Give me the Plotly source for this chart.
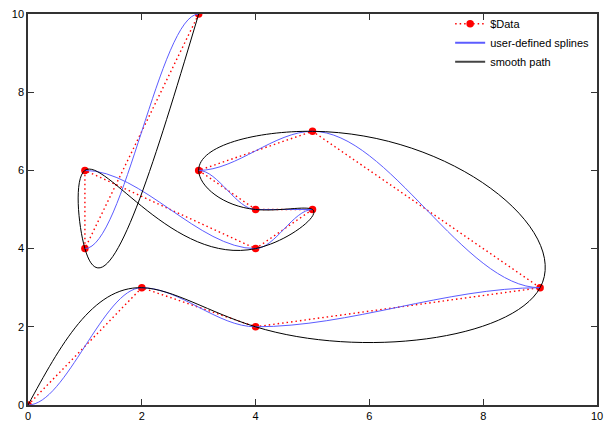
import numpy as np
import plotly.graph_objects as go

# Path data (in drawing order)
xs = [0, 2, 4, 9, 5, 3, 4, 5, 4, 1, 1, 3]
ys = [0, 3, 2, 3, 7, 6, 5, 5, 4, 6, 4, 10]

x_ticks = [0, 2, 4, 6, 8, 10]
y_ticks = [0, 2, 4, 6, 8, 10]

RED = "#ff0000"
BLUE = "#5c5cff"
BLACK = "#000000"


def natural_spline_derivs(s, v):
    """First derivatives of a natural cubic spline v(s) at the knots."""
    n = len(s)
    h = np.diff(s)
    A = np.zeros((n, n))
    b = np.zeros(n)
    A[0, 0] = 1.0
    A[-1, -1] = 1.0
    for i in range(1, n - 1):
        A[i, i - 1] = h[i - 1]
        A[i, i] = 2 * (h[i - 1] + h[i])
        A[i, i + 1] = h[i]
        b[i] = 6 * ((v[i + 1] - v[i]) / h[i] - (v[i] - v[i - 1]) / h[i - 1])
    M = np.linalg.solve(A, b)
    d_start = np.array([(v[i + 1] - v[i]) / h[i] - h[i] * (2 * M[i] + M[i + 1]) / 6 for i in range(n - 1)])
    d_end = np.array([(v[i + 1] - v[i]) / h[i] + h[i] * (M[i] + 2 * M[i + 1]) / 6 for i in range(n - 1)])
    return h, d_start, d_end


fig = go.Figure()

# $Data: dotted red line with points
fig.add_trace(go.Scatter(
    x=xs, y=ys, mode="lines+markers", name="$Data",
    line=dict(color=RED, width=1.4, dash="1.5px,3px"),
    marker=dict(color=RED, size=7.5),
))

# user-defined splines: cubic Bezier segments with horizontal handles (smoothstep)
blue_parts = []
for i in range(len(xs) - 1):
    x0, y0, x1, y1 = xs[i], ys[i], xs[i + 1], ys[i + 1]
    dx = x1 - x0
    if dx == 0:
        continue
    blue_parts.append(f"M {x0},{y0} C {x0 + dx / 3},{y0} {x1 - dx / 3},{y1} {x1},{y1}")
fig.add_shape(type="path", xref="x", yref="y", path=" ".join(blue_parts),
              line=dict(color=BLUE, width=1), layer="above")
fig.add_trace(go.Scatter(
    x=[None], y=[None], mode="lines", name="user-defined splines",
    line=dict(color=BLUE, width=2),
))

# smooth path: natural cubic spline in x and y parameterised by path length
px = np.array(xs, dtype=float)
py = np.array(ys, dtype=float)
s = np.concatenate([[0.0], np.cumsum(np.hypot(np.diff(px), np.diff(py)))])
h, dxs, dxe = natural_spline_derivs(s, px)
_, dys, dye = natural_spline_derivs(s, py)
black_path = f"M {px[0]},{py[0]}"
for i in range(len(px) - 1):
    c1x = px[i] + h[i] * dxs[i] / 3
    c1y = py[i] + h[i] * dys[i] / 3
    c2x = px[i + 1] - h[i] * dxe[i] / 3
    c2y = py[i + 1] - h[i] * dye[i] / 3
    black_path += f" C {c1x:.4f},{c1y:.4f} {c2x:.4f},{c2y:.4f} {px[i + 1]},{py[i + 1]}"
fig.add_shape(type="path", xref="x", yref="y", path=black_path,
              line=dict(color=BLACK, width=1), layer="above")
fig.add_trace(go.Scatter(
    x=[None], y=[None], mode="lines", name="smooth path",
    line=dict(color="#444444", width=2),
))

axis_common = dict(
    showgrid=False, zeroline=False, showline=True, linecolor="#333333",
    linewidth=1.5, mirror="ticks", ticks="inside", ticklen=6, tickwidth=1,
    tickcolor="#333333", automargin=False,
    tickfont=dict(family="Liberation Sans, Arial", size=11, color="#000"),
)
fig.update_xaxes(range=[0, 10], tickvals=x_ticks, ticktext=[str(v) for v in x_ticks], **axis_common)
fig.update_yaxes(range=[0, 10], tickvals=y_ticks, ticktext=[str(v) for v in y_ticks], **axis_common)

fig.update_layout(
    width=610, height=431,
    margin=dict(l=28, r=13, t=14, b=26, autoexpand=False),
    paper_bgcolor="white", plot_bgcolor="white",
    font=dict(family="Liberation Sans, Arial", size=11, color="#000"),
    legend=dict(x=0.995, y=1.012, xanchor="right", yanchor="top",
                bgcolor="rgba(255,255,255,0)", font=dict(size=11),
                tracegroupgap=0, itemwidth=30),
    showlegend=True,
)

fig.write_html("out.html", config={"displayModeBar": False},
               post_script="document.body.style.margin='0';")
